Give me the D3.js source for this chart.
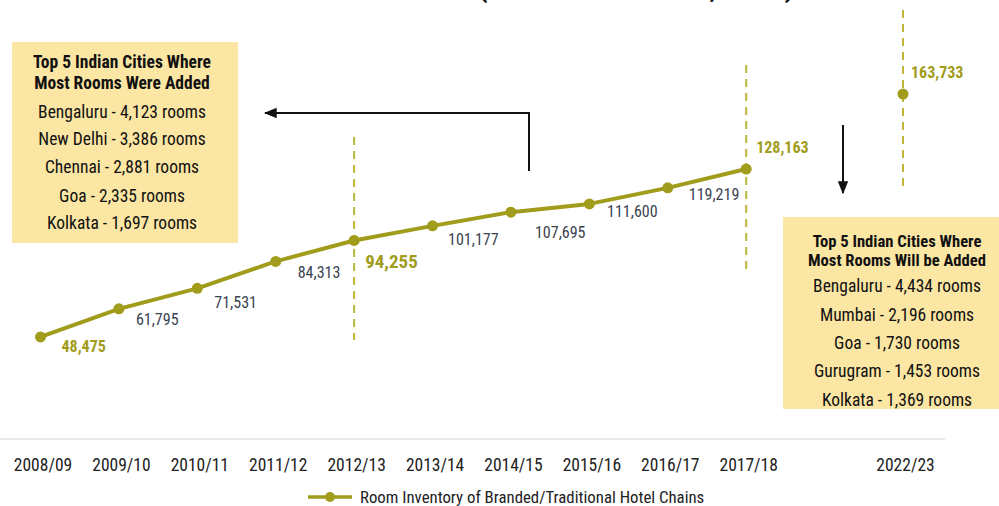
<!DOCTYPE html>
<html>
<head>
<meta charset="utf-8">
<script src="https://cdn.jsdelivr.net/npm/d3@7"></script>
<style>
  html, body { margin: 0; padding: 0; background: #ffffff; }
  svg { display: block; }
  .cond { font-family: "Liberation Sans Narrow", "Roboto Condensed", "DejaVu Sans Condensed", sans-serif; }
</style>
</head>
<body>
<svg id="chart" width="999" height="506"></svg>
<script>
// ---------------- DATA ----------------
const categories = ["2008/09","2009/10","2010/11","2011/12","2012/13","2013/14","2014/15","2015/16","2016/17","2017/18","2022/23"];
const roomInventory = [48475, 61795, 71531, 84313, 94255, 101177, 107695, 111600, 119219, 128163, 163733];
const highlightYears = ["2008/09","2012/13","2017/18","2022/23"];
const connectedYears = ["2008/09","2009/10","2010/11","2011/12","2012/13","2013/14","2014/15","2015/16","2016/17","2017/18"];
const markerYears = ["2012/13","2017/18","2022/23"];
const seriesName = "Room Inventory of Branded/Traditional Hotel Chains";
const titleText = "(Hotel Room Count, 2023)";
const boxLeftTitle = ["Top 5 Indian Cities Where", "Most Rooms Were Added"];
const boxLeftCities = ["Bengaluru", "New Delhi", "Chennai", "Goa", "Kolkata"];
const boxLeftRooms = [4123, 3386, 2881, 2335, 1697];
const boxRightTitle = ["Top 5 Indian Cities Where", "Most Rooms Will be Added"];
const boxRightCities = ["Bengaluru", "Mumbai", "Goa", "Gurugram", "Kolkata"];
const boxRightRooms = [4434, 2196, 1730, 1453, 1369];

// ---------------- STYLE ----------------
const OLIVE = "#a19c1c";
const OLIVE_LIGHT = "#bdb735";
const DARK = "#3a4350";
const BOX = "#fce6a4";
const fmt = d3.format(",");

const svg = d3.select("#chart");
const data = categories.map((c, i) => ({ cat: c, value: roomInventory[i], i }));

// x: point scale with an empty slot between 2017/18 and 2022/23
const slots = [...categories.slice(0, 10), "", categories[10]];
const x = d3.scalePoint().domain(slots).range([40.5, 903]).padding(0);
const y = d3.scaleLinear().domain([0, 200000]).range([439, 17.7]);

// partially visible title at very top (cut off, as in the original)
svg.append("text")
  .attr("x", 478).attr("y", -3)
  .attr("font-family", "Roboto, sans-serif")
  .attr("font-weight", 700)
  .attr("font-size", 27)
  .attr("fill", "#111")
  .text(titleText);

// baseline
svg.append("line")
  .attr("x1", 0).attr("x2", 945)
  .attr("y1", y(0)).attr("y2", y(0))
  .attr("stroke", "#e8e8e8").attr("stroke-width", 2);

// x axis labels
const xAxis = d3.axisBottom(x).tickValues(categories).tickSize(0).tickPadding(20);
const gx = svg.append("g").attr("transform", `translate(0,${y(0)})`).call(xAxis);
gx.select(".domain").remove();
gx.selectAll("text")
  .attr("class", "cond")
  .attr("font-size", 17.5)
  .attr("fill", "#222")
  .attr("dx", 2);

// dashed marker lines
const markerSpan = { "2012/13": [137, 340], "2017/18": [65, 273], "2022/23": [10, 186] };
svg.append("g").selectAll("line")
  .data(markerYears)
  .join("line")
  .attr("x1", d => x(d)).attr("x2", d => x(d))
  .attr("y1", d => markerSpan[d][0]).attr("y2", d => markerSpan[d][1])
  .attr("stroke", OLIVE_LIGHT).attr("stroke-width", 2)
  .attr("stroke-dasharray", "8,6");

// line
const lineData = data.filter(d => connectedYears.includes(d.cat));
svg.append("path")
  .datum(lineData)
  .attr("fill", "none")
  .attr("stroke", OLIVE)
  .attr("stroke-width", 4)
  .attr("stroke-linejoin", "round")
  .attr("d", d3.line().x(d => x(d.cat)).y(d => y(d.value)));

// points
svg.append("g").selectAll("circle")
  .data(data)
  .join("circle")
  .attr("cx", d => x(d.cat)).attr("cy", d => y(d.value))
  .attr("r", 5.5)
  .attr("fill", OLIVE);

// value labels
const labelOffsets = [[21,10],[17,11],[17,14],[22,11.5],[11,20.6],[15.5,14],[24,20],[17.7,7],[21,7],[10,-22],[8,-22]];
svg.append("g").selectAll("text")
  .data(data)
  .join("text")
  .attr("class", "cond")
  .attr("x", d => x(d.cat) + labelOffsets[d.i][0])
  .attr("y", d => y(d.value) + labelOffsets[d.i][1])
  .attr("dy", "0.35em")
  .attr("font-size", d => d.cat === "2012/13" ? 19 : 16)
  .attr("font-weight", d => highlightYears.includes(d.cat) ? 700 : 400)
  .attr("fill", d => highlightYears.includes(d.cat) ? OLIVE : DARK)
  .text(d => fmt(d.value));

// arrows
const defs = svg.append("defs");
defs.append("marker")
  .attr("id", "ah").attr("viewBox", "0 0 10 10")
  .attr("refX", 9).attr("refY", 5)
  .attr("markerWidth", 6.5).attr("markerHeight", 6.5)
  .attr("markerUnits", "strokeWidth")
  .attr("orient", "auto")
  .append("path").attr("d", "M0,1 L10,5 L0,9 Z").attr("fill", "#111");

svg.append("path")
  .attr("d", "M529,171 L529,113 L265,113")
  .attr("fill", "none").attr("stroke", "#111").attr("stroke-width", 2)
  .attr("marker-end", "url(#ah)");
svg.append("path")
  .attr("d", "M843,125 L843,193")
  .attr("fill", "none").attr("stroke", "#111").attr("stroke-width", 2)
  .attr("marker-end", "url(#ah)");

// boxes
function drawBox(x0, y0, w, h, cx, titleYs, titleSize, titleLines, rowYs, cities, rooms) {
  const g = svg.append("g");
  g.append("rect").attr("x", x0).attr("y", y0).attr("width", w).attr("height", h).attr("fill", BOX);
  g.selectAll("text.t").data(titleLines).join("text")
    .attr("class", "cond t")
    .attr("x", cx).attr("y", (d, i) => titleYs[i]).attr("dy", "0.35em")
    .attr("text-anchor", "middle")
    .attr("font-size", titleSize).attr("font-weight", 700).attr("fill", "#111")
    .text(d => d);
  g.selectAll("text.r").data(cities).join("text")
    .attr("class", "cond r")
    .attr("x", cx).attr("y", (d, i) => rowYs[i]).attr("dy", "0.35em")
    .attr("text-anchor", "middle")
    .attr("font-size", 17.5).attr("fill", "#111")
    .text((d, i) => `${d} - ${fmt(rooms[i])} rooms`);
}
drawBox(12, 42, 226, 201, 122, [62, 83], 17.5, boxLeftTitle, [112, 139, 167, 196, 223], boxLeftCities, boxLeftRooms);
drawBox(783, 217, 220, 192, 897, [241, 260.5], 16.6, boxRightTitle, [286, 315, 343, 371, 400], boxRightCities, boxRightRooms);

// legend
const lg = svg.append("g");
lg.append("line").attr("x1", 308).attr("x2", 352).attr("y1", 497).attr("y2", 497)
  .attr("stroke", OLIVE).attr("stroke-width", 3.5);
lg.append("circle").attr("cx", 330).attr("cy", 497).attr("r", 5).attr("fill", OLIVE);
lg.append("text").attr("class", "cond").attr("x", 360).attr("y", 497).attr("dy", "0.35em")
  .attr("font-size", 16.8).attr("fill", "#222").text(seriesName);
</script>
</body>
</html>
